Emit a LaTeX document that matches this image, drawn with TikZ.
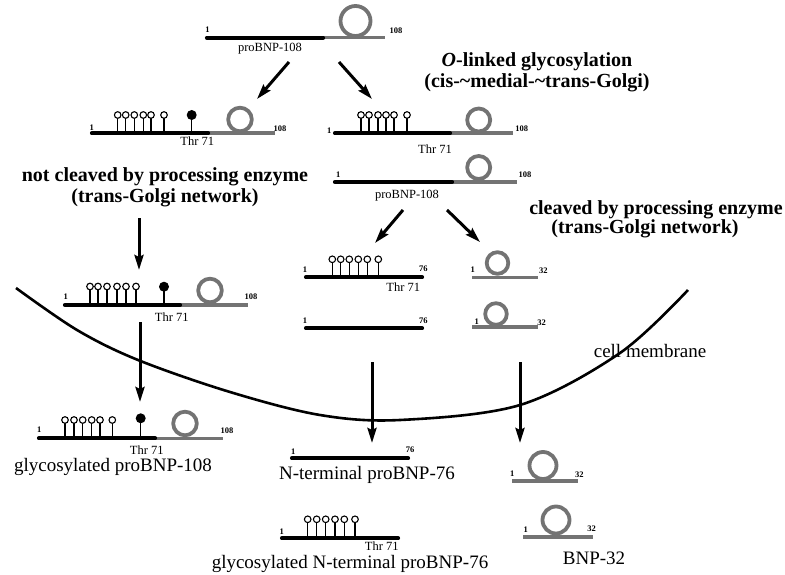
\documentclass[tikz,border=0pt]{standalone}
\usepackage{fontspec}
\setmainfont{Liberation Serif}
\usetikzlibrary{arrows.meta}
\newcommand\opin[3]{\draw[pinline] (#1,#2) -- (#1,{#3+3.3}); \draw[openball] (#1,#3) circle[radius=3.3pt];}
\newcommand\fpin[3]{\draw[pinline] (#1,#2) -- (#1,#3); \fill (#1,#3) circle[radius=5pt];}
\begin{document}
\begin{tikzpicture}[x=1pt,y=-1pt,
  blk/.style={line width=4.2pt,line cap=round},
  gry/.style={line width=3.6pt,draw=black!55},
  loopc/.style={line width=3.8pt,draw=black!55},
  pinline/.style={line width=1.3pt},
  openball/.style={draw,line width=1.1pt,fill=white},
  num/.style={font=\fontsize{8.5}{9}\selectfont\bfseries,inner sep=0pt},
  small/.style={font=\fontsize{12.5}{14}\selectfont,inner sep=0pt},
  big/.style={font=\fontsize{19}{22}\selectfont,inner sep=0pt},
  bold/.style={font=\fontsize{20}{21}\selectfont\bfseries,inner sep=0pt,align=center},
  arr/.style={line width=3pt,-{Stealth[length=15pt,width=9pt,inset=2pt]}},
  membrane/.style={line width=2.6pt}]
\useasboundingbox (0,0) rectangle (785,575);

% cell membrane
\draw[membrane] plot[smooth,tension=0.55] coordinates {(16,288) (77,330) (138,360) (230,392) (320,415) (400,420) (520,405) (620,353) (688,290)};
\node[big] (cm) at (650,351) {cell membrane};

% top proBNP-108
\draw[gry] (323,37.7) -- (385,37.7);
\draw[loopc] (355.5,21) circle[radius=15pt];
\draw[blk] (207,37.7) -- (323,37.7);
\node[num] (n1a) at (207.5,30) {1};
\node[num] (n1b) at (396,31) {108};
\node[small] (top) at (270,49) {proBNP-108};

% row 2 left
\draw[gry] (208,133.3) -- (275,133.3);
\draw[loopc] (240,119.5) circle[radius=11.8pt];
\draw[blk] (92,133.3) -- (208,133.3);
\foreach \x in {117.7,125.7,134.3,143.3,151,164} {\opin{\x}{133.3}{115}}
\fpin{191.7}{133.3}{115}
\node[num] (n2a) at (91.7,127.3) {1};
\node[num] (n2b) at (280,129) {108};
\node[small] (thr2l) at (197.3,141) {Thr 71};

% row 2 right
\draw[gry] (450,133.3) -- (513,133.3);
\draw[loopc] (478.7,120) circle[radius=11.5pt];
\draw[blk] (335,133.3) -- (450,133.3);
\foreach \x in {361,369,378,386,394,407} {\opin{\x}{133.3}{115}}
\node[num] (n2c) at (329.3,130.7) {1};
\node[num] (n2d) at (521.7,128.3) {108};
\node[small] (thr2r) at (435,149.3) {Thr 71};

% row 3 right
\draw[gry] (452,182) -- (517,182);
\draw[loopc] (478.7,167.5) circle[radius=11.5pt];
\draw[blk] (335,182) -- (452,182);
\node[num] (n3a) at (338.3,174.5) {1};
\node[num] (n3b) at (525,174.5) {108};
\node[small] (pro3) at (407,196) {proBNP-108};

% labels
\node[bold] (olink) at (537,72) {\textit{O}-linked glycosylation\\(cis-\char`~medial-\char`~trans-Golgi)};
\node[bold] (notcl) at (165,187) {not cleaved by processing enzyme\\(trans-Golgi network)};
\node[bold] (cl1) at (656,210) {cleaved by processing enzyme};
\node[bold] (cl2) at (645,229) {(trans-Golgi network)};

% row 4 left
\draw[gry] (180,305) -- (248,305);
\draw[loopc] (210,290.5) circle[radius=11.8pt];
\draw[blk] (65,305) -- (180,305);
\foreach \x in {90,98,107,117,126,136} {\opin{\x}{305}{286.5}}
\fpin{164}{305}{286.7}
\node[num] (n4a) at (65.7,297) {1};
\node[num] (n4b) at (251,297) {108};
\node[small] (thr4l) at (171.7,316.7) {Thr 71};

% row 4 middle
\draw[blk] (306,277.3) -- (422,277.3);
\foreach \x in {332.3,340.7,349.3,358.3,367.3,378.3} {\opin{\x}{277.3}{259.3}}
\node[num] (n4c) at (305,269.5) {1};
\node[num] (n4d) at (423.3,268.5) {76};
\node[small] (thr4m) at (403.3,287) {Thr 71};

% row 5 middle
\draw[blk] (306,328.3) -- (422,328.3);
\node[num] (n5a) at (305,321) {1};
\node[num] (n5b) at (423.3,321) {76};

% row 4 right BNP-32
\draw[gry] (472,277.3) -- (538,277.3);
\draw[loopc] (497.5,263) circle[radius=10.8pt];
\node[num] (n4e) at (472.7,269.5) {1};
\node[num] (n4f) at (543.3,271) {32};

% row 5 right BNP-32
\draw[gry] (472,327) -- (538,327);
\draw[loopc] (496,314) circle[radius=10.8pt];
\node[num] (n5c) at (476.7,321.7) {1};
\node[num] (n5d) at (541.7,323) {32};

% row 6 left
\draw[gry] (155,438.3) -- (223,438.3);
\draw[loopc] (185,423.5) circle[radius=11.8pt];
\draw[blk] (39,438.3) -- (155,438.3);
\foreach \x in {65,74,82.7,91.7,100,112.3} {\opin{\x}{438.3}{420}}
\fpin{140.7}{438.3}{418.3}
\node[num] (n6a) at (39.3,430) {1};
\node[num] (n6b) at (227,431) {108};
\node[small] (thr6l) at (146.7,450) {Thr 71};
\node[big] (glyc108) at (113,467) {glycosylated proBNP-108};

% row 6 middle
\draw[blk] (292,458.3) -- (408,458.3);
\node[num] (n6c) at (293.3,451.5) {1};
\node[num] (n6d) at (410,450) {76};
\node[big] (nt76) at (367,475) {N-terminal proBNP-76};

% row 7 middle
\draw[blk] (282,538.3) -- (398,538.3);
\foreach \x in {307.7,316.7,325.7,335,344.3,355} {\opin{\x}{538.3}{519.3}}
\node[num] (n7a) at (281.7,531.7) {1};
\node[small] (thr7m) at (381.7,546) {Thr 71};
\node[big] (gnt76) at (350,563.5) {glycosylated N-terminal proBNP-76};

% row 6 right BNP-32
\draw[gry] (512,481) -- (578,481);
\draw[loopc] (543,465.5) circle[radius=13.5pt];
\node[num] (n6e) at (512.3,473.5) {1};
\node[num] (n6f) at (579.3,475) {32};

% row 7 right BNP-32
\draw[gry] (523,537) -- (593,537);
\draw[loopc] (556,520) circle[radius=13.5pt];
\node[num] (n7c) at (525.7,529.5) {1};
\node[num] (n7d) at (591.7,528.5) {32};
\node[big] (bnp32) at (594,558) {BNP-32};

% arrows
\coordinate (a1s) at (289,62); \coordinate (a1e) at (257,99);
\coordinate (a2s) at (339,62); \coordinate (a2e) at (372,99);
\coordinate (a3s) at (139,218); \coordinate (a3e) at (139,270);
\coordinate (a4s) at (140,322); \coordinate (a4e) at (140,402);
\coordinate (a5s) at (403,210); \coordinate (a5e) at (375,243);
\coordinate (a6s) at (447,210); \coordinate (a6e) at (480,242);
\coordinate (a7s) at (372,362); \coordinate (a7e) at (372,443);
\coordinate (a8s) at (520,362); \coordinate (a8e) at (520,443);
\foreach \i in {1,...,8} {\draw[arr] (a\i s) -- (a\i e);}
\end{tikzpicture}
\end{document}
